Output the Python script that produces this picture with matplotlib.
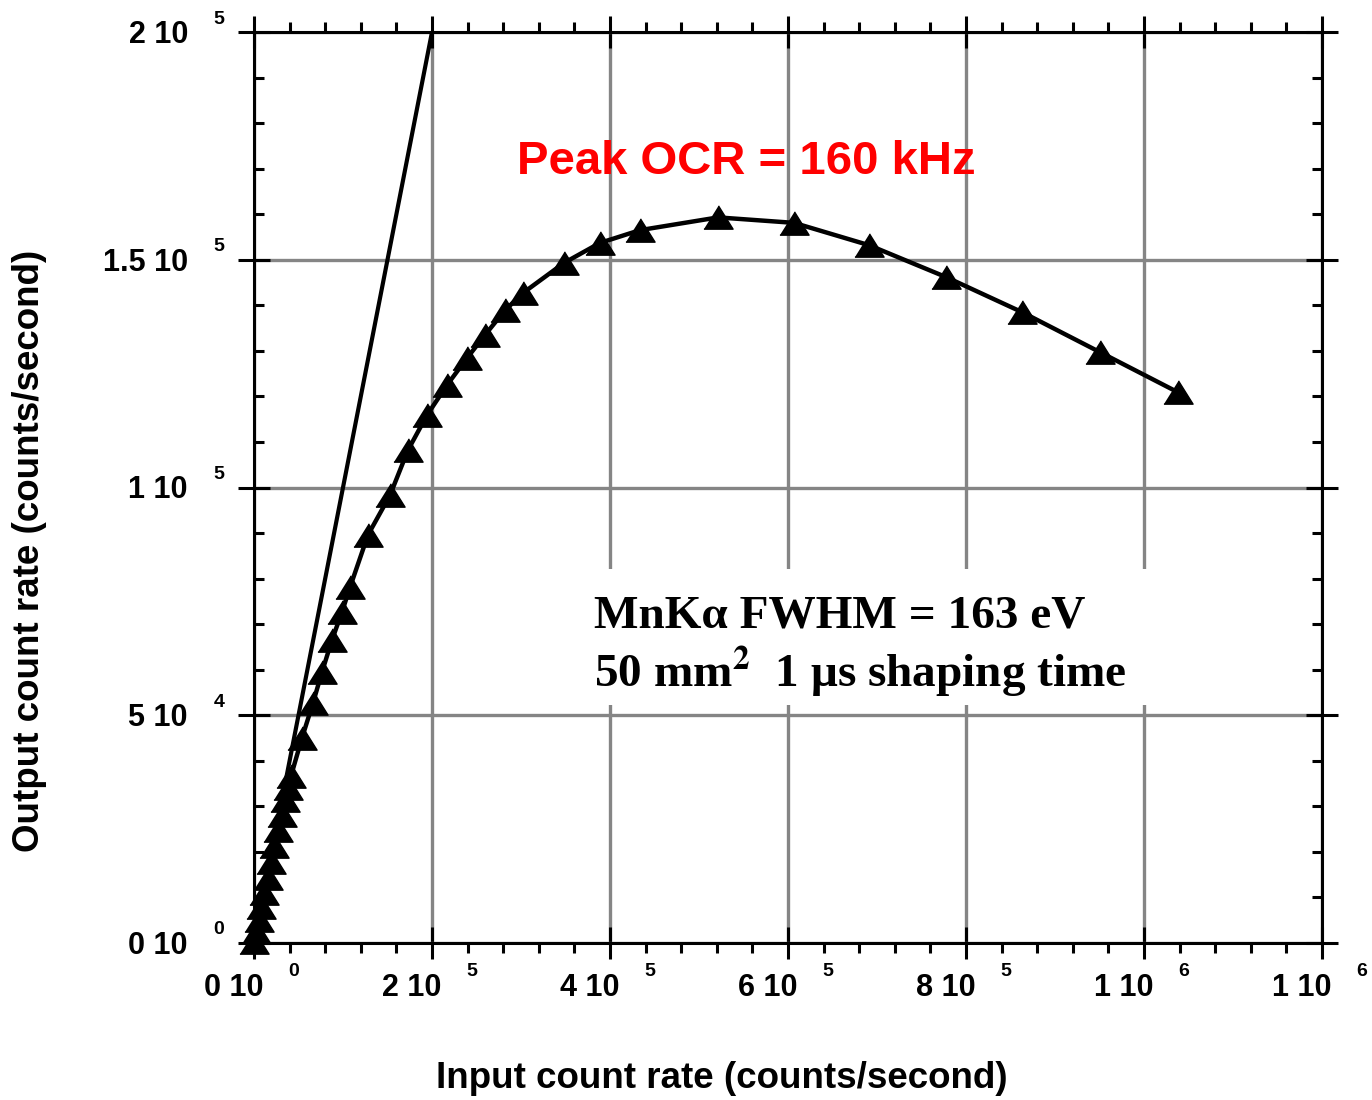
import matplotlib
matplotlib.use("Agg")
import matplotlib.pyplot as plt
from matplotlib.patches import Rectangle
import numpy as np

plt.rcParams['font.family'] = ['Liberation Sans', 'DejaVu Sans']
plt.rcParams['mathtext.fontset'] = 'stix'

# input vs output count rate, counts/second
icr = [560, 2800, 5600, 8400, 11200, 15200, 19100, 23000, 27000, 30900,
       34800, 38200, 41600, 53900, 66300, 76400, 87600, 98900, 107900,
       128100, 152800, 173000, 194400, 216900, 239300, 259600, 282000,
       302200, 348300, 388800, 433700, 521400, 606700, 691000, 777500,
       862900, 950600, 1038200]
ocr = [220, 2400, 5000, 7900, 11000, 14300, 17800, 21300, 24800, 28100,
       31400, 34000, 36700, 45000, 52700, 59500, 66500, 72700, 78100,
       89600, 98300, 108200, 115900, 122500, 128400, 133500, 138900,
       142700, 149300, 153700, 156500, 159300, 158100, 153200, 146200,
       138500, 129700, 120900]

# ideal ICR = OCR line
ideal_x = [0, 2e5]
ideal_y = [0, 2e5]

x_ticks = [0, 2e5, 4e5, 6e5, 8e5, 1e6, 1.2e6]
x_mant = ["0", "2", "4", "6", "8", "1", "1"]
x_exp = ["0", "5", "5", "5", "5", "6", "6"]

y_ticks = [0, 5e4, 1e5, 1.5e5, 2e5]
y_mant = ["0", "5", "1", "1.5", "2"]
y_exp = ["0", "4", "5", "5", "5"]

W, H = 1372, 1100
L, R, T, B = 254, 1322, 32, 943

fig = plt.figure(figsize=(W / 100, H / 100), dpi=100)
ax = fig.add_axes([L / W, 1 - B / H, (R - L) / W, (B - T) / H])

ax.set_xlim(0, 1.2e6)
ax.set_ylim(0, 2e5)

ax.set_xticks(x_ticks)
ax.set_xticks(np.arange(0, 1.2e6 + 1, 4e4), minor=True)
ax.set_yticks(y_ticks)
ax.set_yticks(np.arange(0, 2e5 + 1, 1e4), minor=True)
ax.set_xticklabels([])
ax.set_yticklabels([])

ax.tick_params(which='both', top=True, right=True, width=2.2, color='black')
ax.tick_params(axis='both', which='major', direction='inout', length=23)
ax.tick_params(axis='x', which='minor', direction='out', length=7)
ax.tick_params(axis='y', which='minor', direction='in', length=7)

for s in ax.spines.values():
    s.set_linewidth(2.2)

ax.set_axisbelow(True)
ax.grid(True, which='major', color='#858585', linewidth=2.4)

# white panel behind the detector text, hides the grid there
ax.add_patch(Rectangle(((578 - L) / (R - L), (B - 705) / (B - T)),
                       (1155 - 578) / (R - L), (705 - 569) / (B - T),
                       transform=ax.transAxes, facecolor='white',
                       edgecolor='none', zorder=1))

ax.plot(ideal_x, ideal_y, color='black', linewidth=3, zorder=3)

tri = [(-1, -0.8), (1, -0.8), (0, 0.8)]
ax.plot(icr, ocr, color='black', linewidth=3.2, marker=tri,
        markersize=21, markerfacecolor='black', markeredgecolor='black',
        zorder=4, clip_on=False, solid_joinstyle='round')

# tick labels in "m 10 ^e" style
for v, m, e in zip(x_ticks, x_mant, x_exp):
    ax.annotate(f"{m} 10", xy=(v, 0), xycoords=('data', 'axes fraction'),
                xytext=(-20, -45), textcoords='offset pixels',
                ha='center', va='center', fontsize=22, fontweight='bold')
    ax.annotate(e, xy=(v, 0), xycoords=('data', 'axes fraction'),
                xytext=(40, -29), textcoords='offset pixels',
                ha='center', va='center', fontsize=14, fontweight='bold')

for v, m, e in zip(y_ticks, y_mant, y_exp):
    ax.annotate(f"{m} 10", xy=(0, v), xycoords=('axes fraction', 'data'),
                xytext=(-66, -3), textcoords='offset pixels',
                ha='right', va='center', fontsize=22, fontweight='bold')
    ax.annotate(e, xy=(0, v), xycoords=('axes fraction', 'data'),
                xytext=(-35, 13), textcoords='offset pixels',
                ha='center', va='center', fontsize=14, fontweight='bold')

fig.text(30 / W, 1 - 551 / H, "Output count rate (counts/second)",
         rotation=90, ha='center', va='center', fontsize=26.5,
         fontweight='bold')
fig.text(722 / W, 1 - 1078 / H, "Input count rate (counts/second)",
         ha='center', va='center', fontsize=26.5, fontweight='bold')

fig.text(746 / W, 1 - 162 / H, "Peak OCR = 160 kHz", color='#ff0000',
         ha='center', va='center', fontsize=34, fontweight='bold')

serif = ['Liberation Serif', 'DejaVu Serif']
fig.text(594 / W, 1 - 627 / H, "MnK\u03b1 FWHM = 163 eV", family=serif,
         ha='left', va='baseline', fontsize=34, fontweight='bold', zorder=5)
fig.text(594 / W, 1 - 687 / H,
         "50 mm$^{\\mathbf{2}}$  1 \u03bcs shaping time",
         family=serif, ha='left', va='baseline', fontsize=34,
         fontweight='bold', zorder=5)

fig.savefig("out.png", dpi=100)
